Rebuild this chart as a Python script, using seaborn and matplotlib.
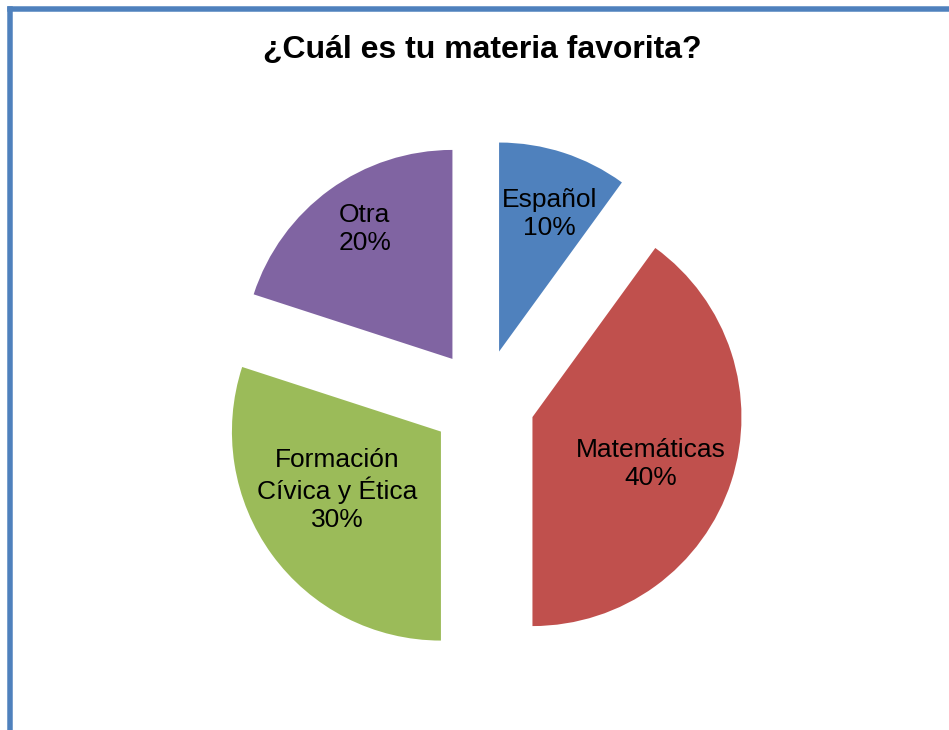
import numpy as np
import matplotlib
matplotlib.use("Agg")
import matplotlib.pyplot as plt
from matplotlib.lines import Line2D
import seaborn as sns

# Survey results
materias = ["Español", "Matemáticas", "Formación\nCívica y Ética", "Otra"]
porcentajes = [10, 40, 30, 20]
colores = ["#4F81BD", "#C0504D", "#9BBB59", "#8064A2"]
titulo = "¿Cuál es tu materia favorita?"

sns.set_theme(style="white")
plt.rcParams["font.family"] = ["Liberation Sans", "DejaVu Sans"]

W, H = 949, 730
fig = plt.figure(figsize=(W / 100, H / 100), dpi=100)
fig.patch.set_facecolor("white")

# Axes in pixel units so the pie keeps its proportions
ax = fig.add_axes([0, 0, 1, 1])

radius = 209
center = (483, H - 401)
# explode is given in data units, so scale the fraction by the radius
wedges, _ = ax.pie(
    porcentajes,
    colors=colores,
    startangle=90,
    counterclock=False,
    explode=[52] * len(porcentajes),
    radius=radius,
    center=center,
    wedgeprops=dict(linewidth=0),
    frame=True,
)
ax.set_xlim(0, W)
ax.set_ylim(0, H)
ax.set_axis_off()

# Data labels inside each slice
label_dist = [0.70, 0.61, 0.57, 0.75]
label_turn = [-2, -3.5, -6.8, -2]
for w, name, pct, d, t in zip(wedges, materias, porcentajes, label_dist, label_turn):
    mid = np.deg2rad((w.theta1 + w.theta2) / 2 + t)
    cx, cy = w.center
    x = cx + d * radius * np.cos(mid)
    y = cy + d * radius * np.sin(mid)
    ax.text(x, y, f"{name}\n{pct}%", ha="center", va="center",
            fontsize=19, color="black", linespacing=1.2)

ax.text(482, H - 58, titulo, ha="center", va="baseline",
        fontsize=23, fontweight="bold", color="black")

# Chart frame (left and top edges)
lw = 5.5 * 72 / 100
fig.add_artist(Line2D([9.5 / W, 9.5 / W], [0, 1 - 9 / H], color="#4F81BD",
                      linewidth=lw, transform=fig.transFigure,
                      solid_capstyle="projecting"))
fig.add_artist(Line2D([9.5 / W, 1], [1 - 9 / H, 1 - 9 / H], color="#4F81BD",
                      linewidth=lw, transform=fig.transFigure,
                      solid_capstyle="projecting"))

fig.savefig("out.png", dpi=100, facecolor="white")
